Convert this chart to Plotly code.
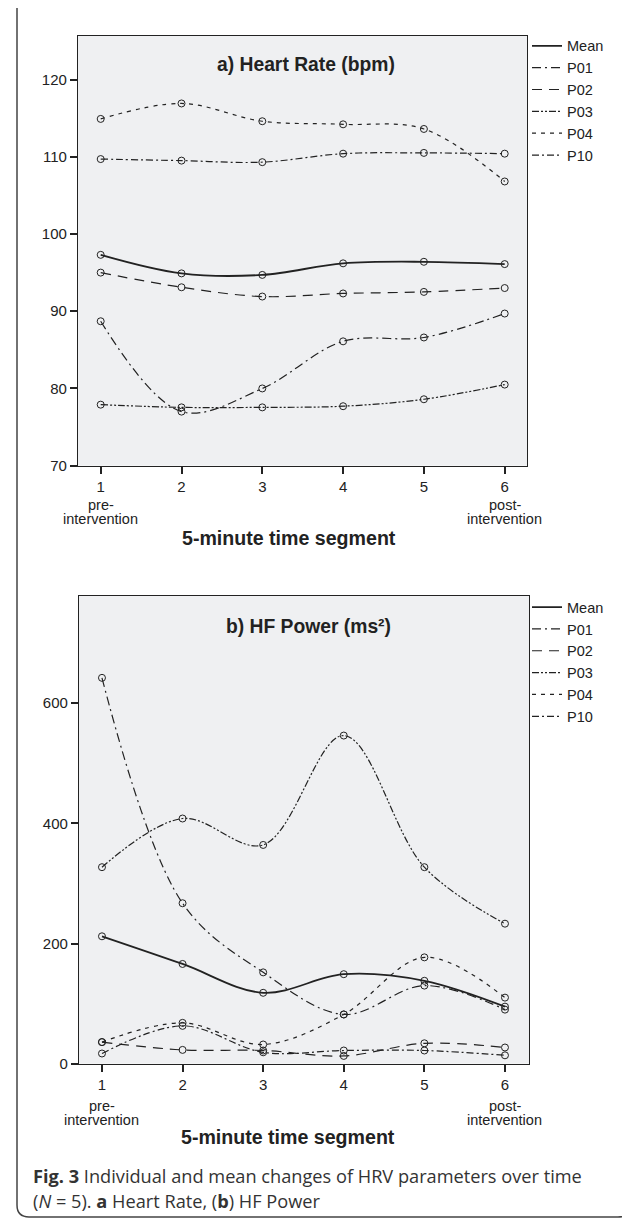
import plotly.graph_objects as go

# ---------------- data ----------------
segments = [1, 2, 3, 4, 5, 6]
series_names = ["Mean", "P01", "P02", "P03", "P04", "P10"]

# a) Heart Rate (bpm)
hr_mean = [97.3, 94.9, 94.7, 96.2, 96.4, 96.1]
hr_p01 = [88.7, 77.0, 80.0, 86.1, 86.6, 89.7]
hr_p02 = [95.0, 93.1, 91.9, 92.3, 92.5, 93.0]
hr_p03 = [77.9, 77.55, 77.55, 77.7, 78.6, 80.5]
hr_p04 = [114.9, 116.9, 114.6, 114.2, 113.6, 106.8]
hr_p10 = [109.7, 109.5, 109.3, 110.4, 110.5, 110.4]

# b) HF Power (ms²)
hf_mean = [212, 166, 118, 149, 138, 95]
hf_p01 = [642, 267, 152, 82, 130, 90]
hf_p02 = [36, 23, 22, 13, 34, 27]
hf_p03 = [327, 408, 364, 546, 327, 233]
hf_p04 = [36, 68, 32, 82, 177, 110]
hf_p10 = [17, 63, 19, 22, 22, 14]

hr_ticks = [70, 80, 90, 100, 110, 120]
hf_ticks = [0, 200, 400, 600]

# ---------------- styling ----------------
W, H = 630, 1219
INK = "#222222"
FONT = "Liberation Sans, Arial, sans-serif"
dashes = {
    "Mean": "solid",
    "P01": "9px,4px,2px,4px",
    "P02": "10px,7px",
    "P03": "7px,2px,2px,2px,2px,2px",
    "P04": "4px,5px",
    "P10": "7px,3px,2px,3px",
}
widths = {"Mean": 1.8}
LW = 1.2


def fx(px):
    return px / W


def fy(py):
    return 1 - py / H


fig = go.Figure()

panels = [
    ("x", "y", "legend", [hr_mean, hr_p01, hr_p02, hr_p03, hr_p04, hr_p10]),
    ("x2", "y2", "legend2", [hf_mean, hf_p01, hf_p02, hf_p03, hf_p04, hf_p10]),
]

for xa, ya, leg, values in panels:
    for name, vals in zip(series_names, values):
        fig.add_trace(go.Scatter(
            x=segments, y=vals, xaxis=xa, yaxis=ya,
            mode="lines+markers",
            line=dict(color=INK, width=widths.get(name, LW), dash=dashes[name],
                      shape="spline", smoothing=1.0),
            marker=dict(symbol="circle-open", size=7, color=INK, line=dict(width=1, color=INK)),
            showlegend=False, hoverinfo="skip",
        ))
    # legend-only entries (line swatch, no marker)
    for name in series_names:
        fig.add_trace(go.Scatter(
            x=[None], y=[None], xaxis=xa, yaxis=ya, mode="lines", name=name,
            line=dict(color=INK, width=widths.get(name, LW), dash=dashes[name]),
            legend=leg, showlegend=True,
        ))

axis_common = dict(
    showline=True, mirror=True, linecolor=INK, linewidth=1.2,
    showgrid=False, zeroline=False, ticks="outside", tickwidth=2,
    tickcolor=INK, tickfont=dict(family=FONT, size=15, color=INK),
)

leg_common = dict(xanchor="left", yanchor="top",
                  font=dict(family=FONT, size=14.5, color=INK),
                  bgcolor="rgba(0,0,0,0)", itemwidth=30, tracegroupgap=0)

fig.update_layout(
    width=W, height=H,
    margin=dict(l=0, r=0, t=0, b=0),
    paper_bgcolor="white",
    plot_bgcolor="#EFF0F2",
    xaxis=dict(domain=[fx(70), fx(519)], range=[0.719, 6.276], anchor="y",
               tickvals=segments, ticklen=7, **axis_common),
    yaxis=dict(domain=[fy(460.7), fy(28)], range=[70, 125.66], anchor="x",
               tickvals=hr_ticks, ticklen=7, **axis_common),
    xaxis2=dict(domain=[fx(71), fx(521)], range=[0.715, 6.298], anchor="y2",
                tickvals=segments, ticklen=7, **axis_common),
    yaxis2=dict(domain=[fy(1062.7), fy(592)], range=[0, 778], anchor="x2",
                tickvals=hf_ticks, ticklen=7, **axis_common),
    legend=dict(x=fx(519), y=fy(22), **leg_common),
    legend2=dict(x=fx(519), y=fy(587), **leg_common),
)

ann = []


def text(x, y, t, size, xref="paper", family=FONT, xanchor="center", color=INK):
    ann.append(dict(
        x=x if xref != "paper" else fx(x), y=fy(y), xref=xref, yref="paper",
        text=t, showarrow=False, xanchor=xanchor, yanchor="middle",
        font=dict(family=family, size=size, color=color),
    ))


# panel titles
text(298, 57, "<b>a) Heart Rate (bpm)</b>", 19.3)
text(300, 623, "<b>b) HF Power (ms²)</b>", 19.3)
# axis titles
text(281, 534, "<b>5-minute time segment</b>", 19.6)
text(280, 1136, "<b>5-minute time segment</b>", 19.6)
# pre/post labels
for xr, y1, y2 in [("x", 500, 514), ("x2", 1105, 1119)]:
    text(1, y1, "pre-", 14.5, xref=xr)
    text(1, y2, "intervention", 14.5, xref=xr)
    text(6, y1, "post-", 14.5, xref=xr)
    text(6, y2, "intervention", 14.5, xref=xr)

# caption
CAP = "Open Sans, Lato, sans-serif"
text(23, 1176, "<b>Fig. 3</b> Individual and mean changes of HRV parameters over time", 18.2,
     family=CAP, xanchor="left", color="#333333")
text(23, 1201, "(<i>N</i> = 5). <b>a</b> Heart Rate, (<b>b</b>) HF Power", 18.2,
     family=CAP, xanchor="left", color="#333333")

fig.update_layout(annotations=ann)


def P(x, y):
    return f"{fx(x):.5f},{fy(y):.5f}"


frame = (f"M {P(9, 0)} L {P(9, 1205)} Q {P(9, 1217)} {P(21, 1217)} "
         f"L {P(610, 1217)} Q {P(622, 1217)} {P(622, 1205)}")
fig.add_shape(type="path", path=frame, xref="paper", yref="paper",
              line=dict(color="#444444", width=1.5))

fig.write_html("out.html")
